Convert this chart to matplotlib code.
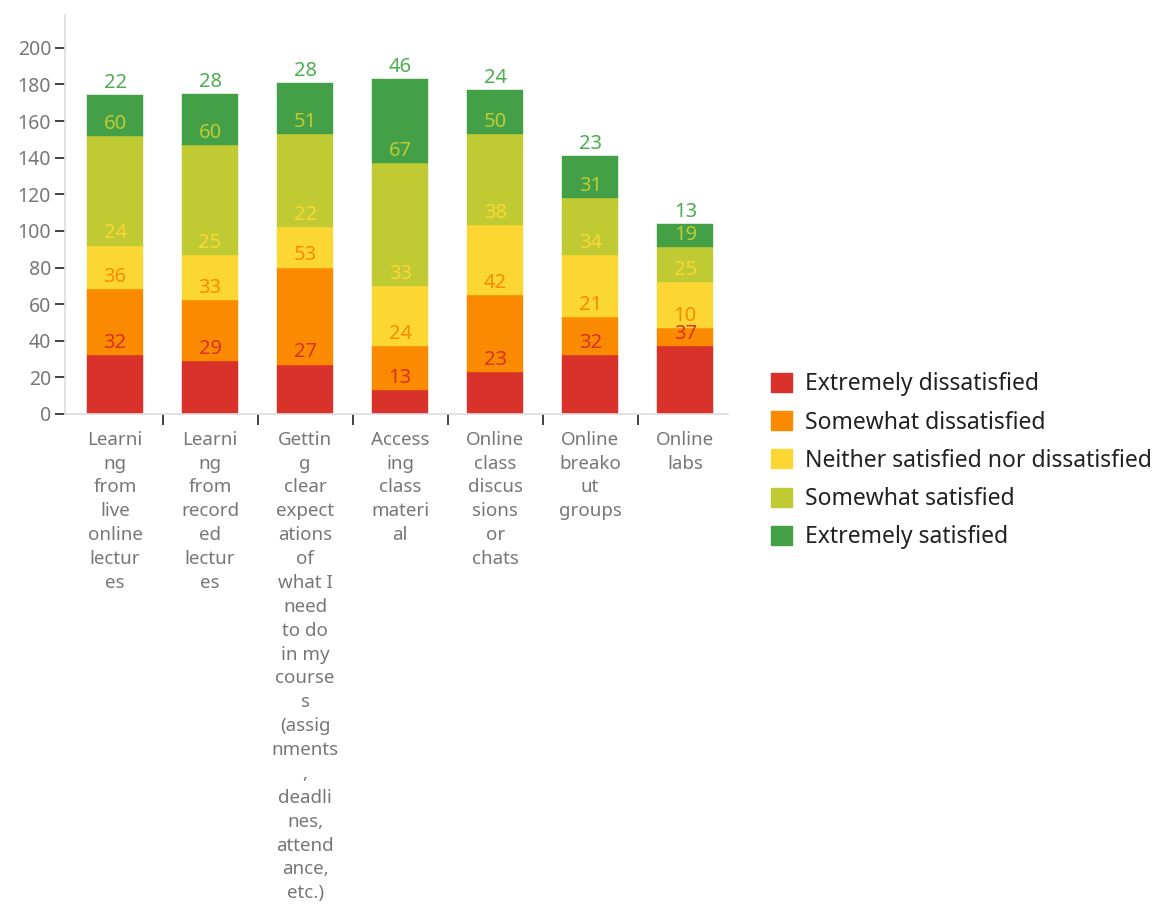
import numpy as np
import matplotlib
matplotlib.use('Agg')
import matplotlib.pyplot as plt
from matplotlib.patches import Patch

plt.rcParams['font.family'] = ['Noto Sans', 'DejaVu Sans']

categories = [
    "Learni\nng\nfrom\nlive\nonline\nlectur\nes",
    "Learni\nng\nfrom\nrecord\ned\nlectur\nes",
    "Gettin\ng\nclear\nexpect\nations\nof\nwhat I\nneed\nto do\nin my\ncourse\ns\n(assig\nnments\n,\ndeadli\nnes,\nattend\nance,\netc.)",
    "Access\ning\nclass\nmateri\nal",
    "Online\nclass\ndiscus\nsions\nor\nchats",
    "Online\nbreako\nut\ngroups",
    "Online\nlabs",
]
series_names = ["Extremely dissatisfied", "Somewhat dissatisfied",
                "Neither satisfied nor dissatisfied", "Somewhat satisfied",
                "Extremely satisfied"]
extremely_dissatisfied = [32, 29, 27, 13, 23, 32, 37]
somewhat_dissatisfied = [36, 33, 53, 24, 42, 21, 10]
neither = [24, 25, 22, 33, 38, 34, 25]
somewhat_satisfied = [60, 60, 51, 67, 50, 31, 19]
extremely_satisfied = [22, 28, 28, 46, 24, 23, 13]
colors = ['#d8322a', '#fa8b00', '#fcd734', '#c0ca33', '#43a047']
text_colors = ['#d8322a', '#fa8b00', '#fcd734', '#c0ca33', '#4caf50']

series = [extremely_dissatisfied, somewhat_dissatisfied, neither,
          somewhat_satisfied, extremely_satisfied]

fig = plt.figure(figsize=(11.57, 9.09), dpi=100)
ax = fig.add_axes([0.0562, 0.5446, 0.573, 0.439])

x = np.arange(len(categories))
bottom = np.zeros(len(categories))
for vals, col, tcol in zip(series, colors, text_colors):
    vals = np.array(vals)
    ax.bar(x, vals, 0.59, bottom=bottom, color=col, edgecolor=col, linewidth=0.3)
    top = bottom + vals
    for xi, t, v in zip(x, top, vals):
        ax.annotate(str(v), (xi, t), xytext=(0, 1.5), textcoords='offset points',
                    ha='center', va='bottom', fontsize=14.5, color=tcol)
    bottom = top

ax.set_xlim(-0.526, 6.45)
ax.set_ylim(0, 218)
ax.set_yticks(np.arange(0, 201, 20))
ax.tick_params(axis='y', length=7, width=1.3, color='#333333', labelcolor='#777777',
               labelsize=14, pad=3)
ax.set_xticks(x)
ax.set_xticklabels(categories, linespacing=1.42)
ax.tick_params(axis='x', which='major', length=0, labelcolor='#777777',
               labelsize=13.5, pad=12)
ax.set_xticks(x[:-1] + 0.5, minor=True)
ax.tick_params(axis='x', which='minor', length=8, width=1.3, color='#333333')

for s in ['top', 'right']:
    ax.spines[s].set_visible(False)
for s in ['left', 'bottom']:
    ax.spines[s].set_color('#dddddd')
    ax.spines[s].set_linewidth(1.2)

handles = [Patch(facecolor=c, edgecolor=c) for c in colors]
fig.legend(handles, series_names, loc='upper left', bbox_to_anchor=(0.6485, 0.613),
           frameon=False, fontsize=16.5, handlelength=0.9, handleheight=0.9,
           handletextpad=0.6, labelspacing=0.62, labelcolor='#222222')

plt.savefig('out.png', dpi=100)
plt.close()
